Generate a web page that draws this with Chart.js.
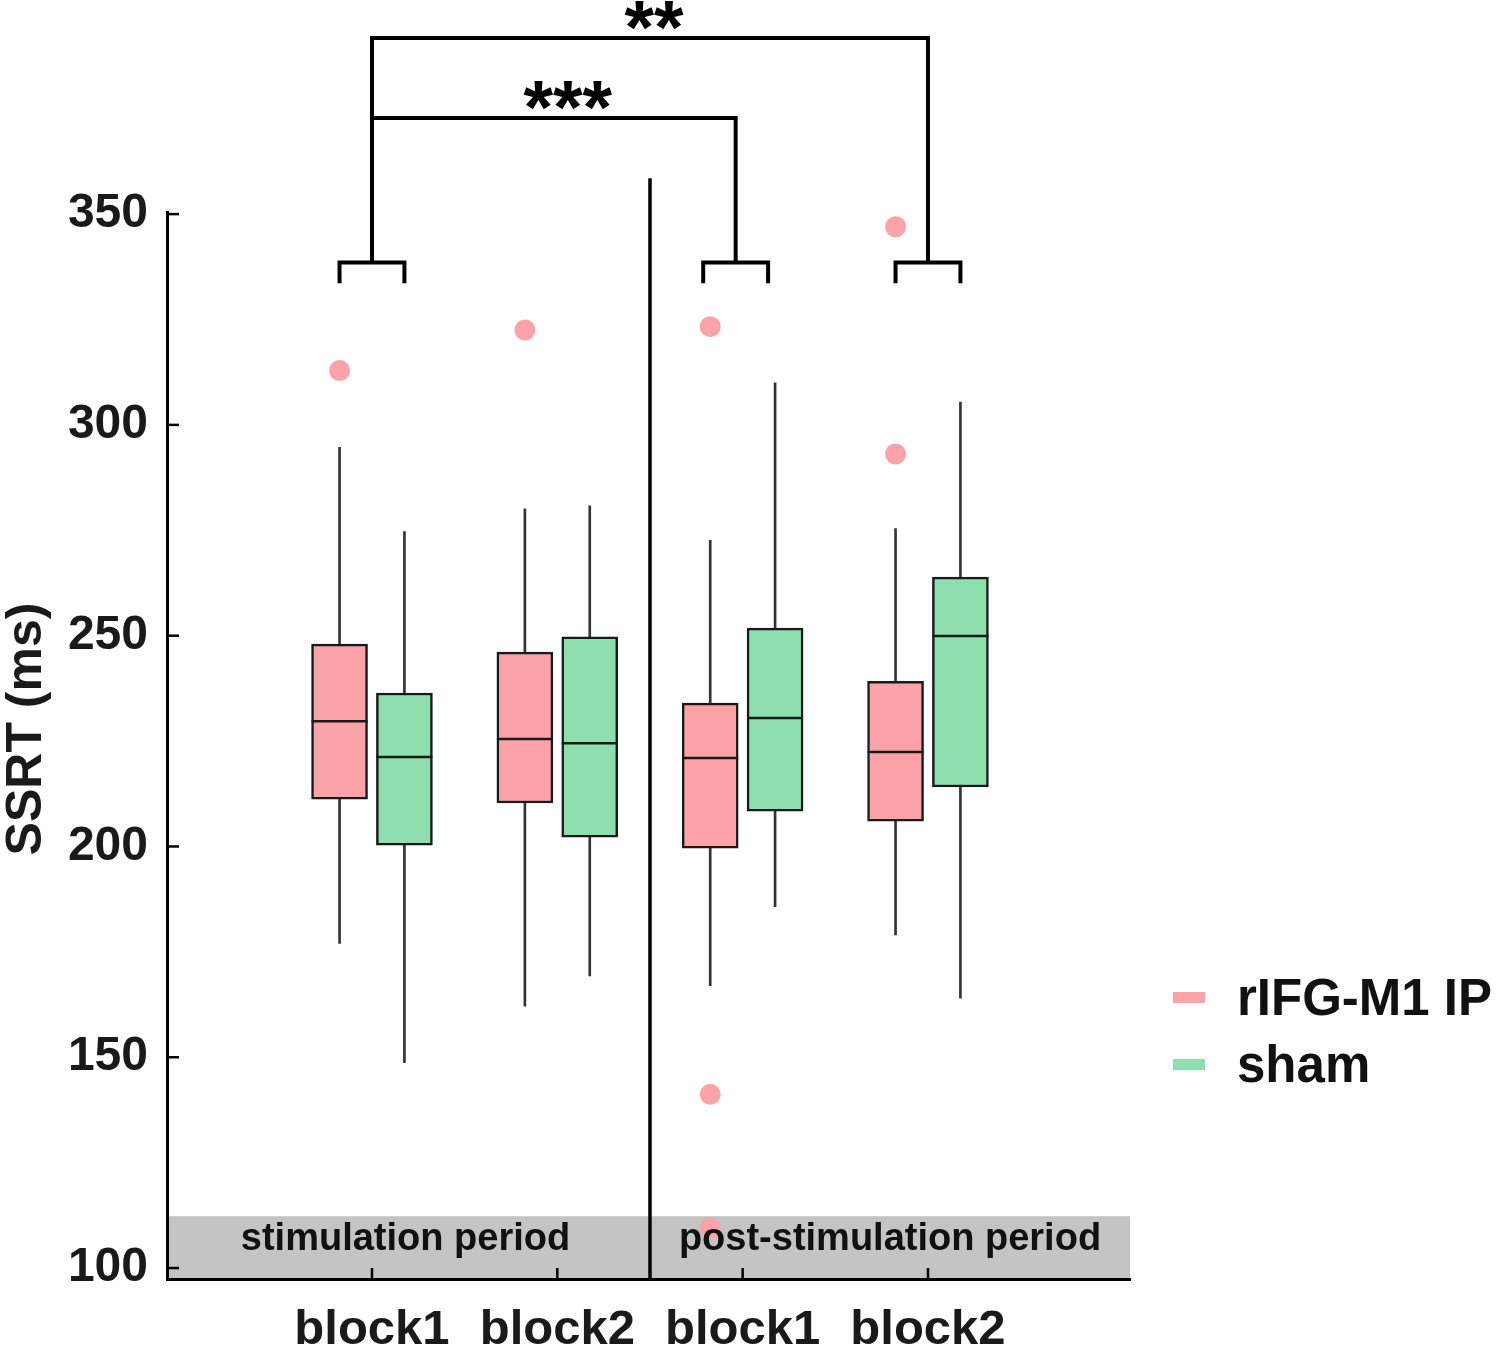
<!DOCTYPE html>
<html>
<head>
<meta charset="utf-8">
<script src="https://cdn.jsdelivr.net/npm/chart.js@4.4.1/dist/chart.umd.min.js"></script>
<style>
  html, body { margin: 0; padding: 0; background: #fff; }
  #wrap { width: 1500px; height: 1354px; }
</style>
</head>
<body>
<div id="wrap"><canvas id="c" width="1500" height="1354"></canvas></div>
<script>
const blocks = ['block1', 'block2', 'block1', 'block2'];
const periods = ['stimulation period', 'post-stimulation period'];
const groups = ['rIFG-M1 IP', 'sham'];
const colors = ['#fba3a8', '#8fdeae'];
const yTicks = [100, 150, 200, 250, 300, 350];

// rIFG-M1 IP
const ipLow = [177.0, 162.1, 167.0, 179.0];
const ipQ1 = [211.2, 210.3, 199.6, 206.0];
const ipMed = [229.7, 225.5, 221.0, 222.4];
const ipQ3 = [248.0, 246.1, 234.0, 239.2];
const ipHigh = [294.7, 280.1, 272.6, 275.4];
const ipOut = [[312.9], [322.5], [323.3, 141.2, 109.5], [347.0, 293.1]];

// sham
const shLow = [148.7, 169.3, 185.7, 164.0];
const shQ1 = [200.3, 202.2, 208.4, 214.1];
const shMed = [221.2, 224.5, 230.5, 249.9];
const shQ3 = [236.4, 249.7, 251.8, 263.9];
const shHigh = [274.7, 280.8, 310.0, 305.4];
const shOut = [[], [], [], []];

// significance brackets: [block a, block b, stars]
const sigPairs = [[0, 2, '***'], [0, 3, '**']];

const OFF = 0.175;          // half distance between the two boxes of a block
const ink = '#1a1a1a';
const FONT = '"Liberation Sans", Arial, sans-serif';

const xPos = (i, g) => i + 1 + (g === 0 ? -OFF : OFF);

const whiskers = [];
const medians = [];
const outliers = [];
blocks.forEach((b, i) => {
  whiskers.push({ x: xPos(i, 0), y: [ipLow[i], ipHigh[i]] });
  whiskers.push({ x: xPos(i, 1), y: [shLow[i], shHigh[i]] });
  medians.push({ x: xPos(i, 0), y: ipMed[i] });
  medians.push({ x: xPos(i, 1), y: shMed[i] });
  ipOut[i].forEach(v => outliers.push({ x: xPos(i, 0), y: v }));
  shOut[i].forEach(v => outliers.push({ x: xPos(i, 1), y: v }));
});
const ipBoxes = blocks.map((b, i) => ({ x: xPos(i, 0), y: [ipQ1[i], ipQ3[i]] }));
const shBoxes = blocks.map((b, i) => ({ x: xPos(i, 1), y: [shQ1[i], shQ3[i]] }));

const decor = {
  id: 'decor',
  beforeDraw(chart) {
    const { ctx, chartArea: a, scales: { y } } = chart;
    const top = y.getPixelForValue(112.3);
    ctx.save();
    ctx.fillStyle = '#c4c4c4';
    ctx.fillRect(a.left, top, a.right - a.left, a.bottom - top);
    ctx.restore();
  },
  afterDatasetsDraw(chart) {
    const { ctx, chartArea: a, scales: { x, y } } = chart;
    ctx.save();
    ctx.strokeStyle = '#000';
    ctx.lineCap = 'butt';

    // inward tick marks
    ctx.lineWidth = 2.5;
    yTicks.forEach(v => {
      const py = y.getPixelForValue(v);
      ctx.beginPath(); ctx.moveTo(a.left, py); ctx.lineTo(a.left + 12, py); ctx.stroke();
    });
    blocks.forEach((b, i) => {
      const px = x.getPixelForValue(i + 1);
      ctx.beginPath(); ctx.moveTo(px, a.bottom); ctx.lineTo(px, a.bottom - 11); ctx.stroke();
    });

    // period divider
    ctx.lineWidth = 3.5;
    const dx = x.getPixelForValue(2.5);
    ctx.beginPath(); ctx.moveTo(dx, a.bottom); ctx.lineTo(dx, y.getPixelForValue(358.5)); ctx.stroke();

    // period labels in the grey band
    ctx.fillStyle = '#111';
    ctx.font = 'bold 38px ' + FONT;
    ctx.textAlign = 'center';
    ctx.textBaseline = 'alphabetic';
    const bandY = y.getPixelForValue(97.4) - 29;
    ctx.fillText(periods[0], (a.left + dx) / 2 - 3, bandY);
    ctx.fillText(periods[1], (dx + a.right) / 2, bandY);

    // significance brackets
    ctx.lineWidth = 4;
    ctx.strokeStyle = '#000';
    const legTop = y.getPixelForValue(338.5);
    const legBot = y.getPixelForValue(333.6);
    const nudge = [0, 0, -7, 0];   // reference draws the third bracket slightly left
    blocks.forEach((b, i) => {
      if (!sigPairs.some(p => p[0] === i || p[1] === i)) return;
      const l = x.getPixelForValue(xPos(i, 0)) + nudge[i];
      const r = x.getPixelForValue(xPos(i, 1)) + nudge[i];
      ctx.beginPath();
      ctx.moveTo(l, legBot); ctx.lineTo(l, legTop); ctx.lineTo(r, legTop); ctx.lineTo(r, legBot);
      ctx.stroke();
    });
    const levels = [372.8, 391.8];
    sigPairs.forEach((p, k) => {
      const l = x.getPixelForValue(p[0] + 1) + nudge[p[0]];
      const r = x.getPixelForValue(p[1] + 1) + nudge[p[1]];
      const h = y.getPixelForValue(levels[k]);
      ctx.beginPath();
      ctx.moveTo(l, legTop); ctx.lineTo(l, h); ctx.lineTo(r, h); ctx.lineTo(r, legTop);
      ctx.stroke();
      ctx.fillStyle = '#000';
      ctx.font = 'bold 76px ' + FONT;
      ctx.textAlign = 'center';
      const m = ctx.measureText(p[2]);
      const bottom = h - 8;
      ctx.fillText(p[2], (l + r) / 2 + (k === 0 ? 14 : 4), bottom - m.actualBoundingBoxDescent);
    });

    // y title
    ctx.save();
    ctx.translate(27, 729);
    ctx.rotate(-Math.PI / 2);
    ctx.fillStyle = ink;
    ctx.font = 'bold 50px ' + FONT;
    ctx.textAlign = 'center';
    ctx.textBaseline = 'middle';
    ctx.fillText('SSRT (ms)', 0, 0);
    ctx.restore();

    // legend
    ctx.font = 'bold 51px ' + FONT;
    ctx.textAlign = 'left';
    ctx.textBaseline = 'alphabetic';
    groups.forEach((g, k) => {
      const cy = 997 + k * 67;
      ctx.fillStyle = colors[k];
      ctx.fillRect(1173, cy - 5, 32, 11);
      ctx.fillStyle = '#111';
      ctx.fillText(g, 1237, cy + 18);
    });
    ctx.restore();
  }
};

new Chart(document.getElementById('c'), {
  type: 'bar',
  data: {
    datasets: [
      { type: 'bar', data: whiskers, backgroundColor: '#333', barThickness: 2, grouped: false, order: 4 },
      { type: 'bar', label: groups[0], data: ipBoxes, backgroundColor: colors[0], borderColor: ink,
        borderWidth: 2.5, borderSkipped: false, barThickness: 56, grouped: false, order: 3 },
      { type: 'bar', label: groups[1], data: shBoxes, backgroundColor: colors[1], borderColor: ink,
        borderWidth: 2.5, borderSkipped: false, barThickness: 56, grouped: false, order: 3 },
      { type: 'scatter', data: medians, pointStyle: 'line', pointRadius: 28, borderColor: ink,
        borderWidth: 2.5, showLine: false, order: 2 },
      { type: 'scatter', data: outliers, pointStyle: 'circle', pointRadius: 10.5, backgroundColor: colors[0],
        borderWidth: 0, showLine: false, order: 1 }
    ]
  },
  options: {
    responsive: false,
    animation: false,
    layout: { padding: { top: 212, right: 370, left: 0, bottom: 0 } },
    plugins: { legend: { display: false }, tooltip: { enabled: false } },
    scales: {
      x: {
        type: 'linear', min: -0.106, max: 5.09, offset: false,
        afterBuildTicks: s => { s.ticks = blocks.map((b, i) => ({ value: i + 1 })); },
        afterFit: s => { s.height = 75; },
        grid: { drawOnChartArea: false, drawTicks: false, offset: false },
        border: { color: '#000', width: 3 },
        ticks: {
          padding: 22, color: ink, font: { family: FONT, size: 49, weight: 'bold' },
          callback: v => blocks[Math.round(v) - 1], maxRotation: 0, autoSkip: false
        }
      },
      y: {
        min: 97.4, max: 350.5,
        afterBuildTicks: s => { s.ticks = yTicks.map(v => ({ value: v })); },
        afterFit: s => { s.width = 167; },
        grid: { drawOnChartArea: false, drawTicks: false },
        border: { color: '#000', width: 3 },
        ticks: { padding: 19, color: ink, font: { family: FONT, size: 48, weight: 'bold' } }
      }
    }
  },
  plugins: [decor]
});
</script>
</body>
</html>
